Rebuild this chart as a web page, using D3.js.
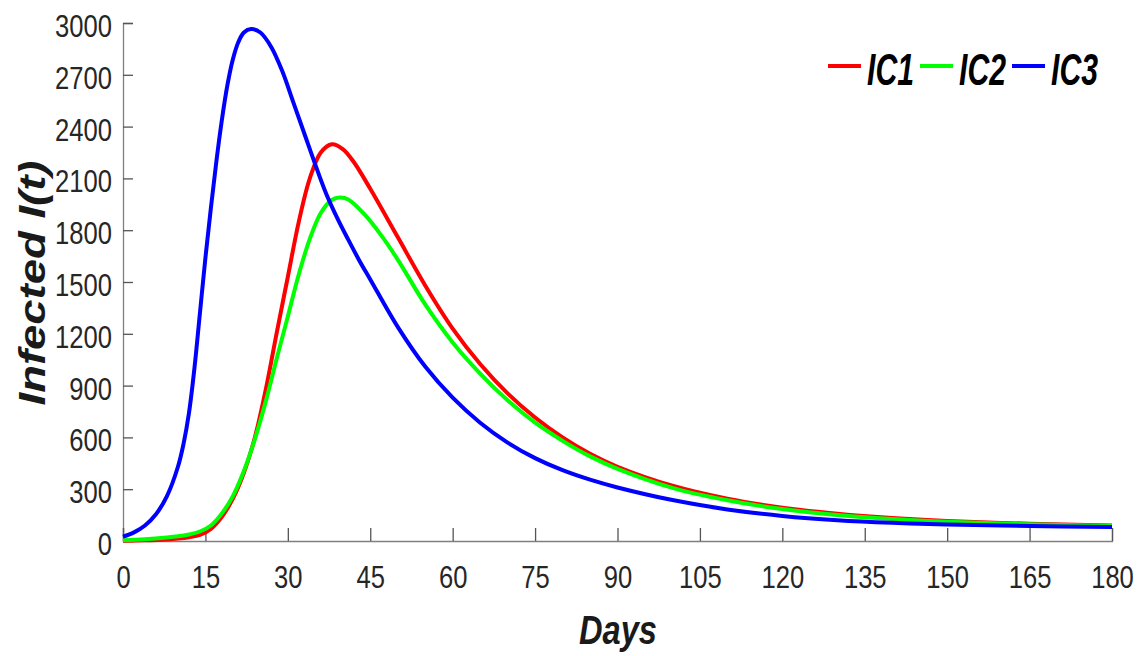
<!DOCTYPE html>
<html>
<head>
<meta charset="utf-8">
<script src="https://cdn.jsdelivr.net/npm/d3@7"></script>
<style>
  html, body { margin: 0; padding: 0; background: #fff; }
  svg { display: block; }
  text { font-family: "Liberation Sans", Arial, sans-serif; }
</style>
</head>
<body>
<svg id="chart" width="1145" height="656"></svg>
<script>
// ---- data ----
const xTicks = [0, 15, 30, 45, 60, 75, 90, 105, 120, 135, 150, 165, 180];
const yTicks = [0, 300, 600, 900, 1200, 1500, 1800, 2100, 2400, 2700, 3000];
const seriesNames = ["IC1", "IC2", "IC3"];
const seriesColors = ["#ff0000", "#00ff00", "#0000ff"];

const ic1Days = [0, 4, 8, 10, 12, 14, 16, 18, 20, 22, 24, 26, 28, 30, 32, 34, 36, 38, 40, 42, 45, 50, 55, 60, 65, 70, 75, 80, 85, 90, 100, 110, 120, 130, 140, 150, 165, 180];
const ic1Vals = [2, 4, 9, 14, 22, 35, 70, 140, 245, 395, 600, 880, 1210, 1530, 1850, 2100, 2250, 2298, 2270, 2195, 2040, 1760, 1480, 1230, 1025, 855, 715, 600, 505, 430, 320, 245, 193, 158, 133, 116, 100, 90];

const ic2Days = [0, 4, 8, 10, 12, 14, 16, 18, 20, 22, 24, 26, 28, 30, 32, 34, 36, 38, 39.5, 41, 44, 47, 50, 55, 60, 65, 70, 75, 80, 85, 90, 100, 110, 120, 130, 140, 150, 165, 180];
const ic2Vals = [5, 10, 20, 27, 38, 55, 90, 160, 260, 405, 590, 810, 1060, 1300, 1545, 1750, 1900, 1975, 1989, 1978, 1890, 1770, 1630, 1370, 1150, 970, 815, 685, 580, 490, 418, 308, 236, 185, 151, 128, 112, 97, 87];

const ic3Days = [0, 2, 4, 6, 8, 10, 11, 12, 13, 14, 15, 16, 17, 18, 19, 20, 21, 22, 23.3, 25, 27, 29, 31, 33, 35, 37, 39, 41, 43, 45, 50, 55, 60, 65, 70, 75, 80, 85, 90, 100, 110, 120, 130, 140, 150, 165, 180];
const ic3Vals = [25, 50, 90, 155, 260, 430, 560, 740, 1000, 1320, 1640, 1930, 2200, 2440, 2640, 2790, 2890, 2945, 2965, 2945, 2860, 2720, 2540, 2360, 2180, 2010, 1870, 1745, 1625, 1515, 1240, 1010, 830, 685, 570, 480, 410, 355, 310, 237, 183, 145, 120, 105, 96, 87, 81];

const seriesDays = [ic1Days, ic2Days, ic3Days];
const seriesVals = [ic1Vals, ic2Vals, ic3Vals];

// ---- layout ----
const svg = d3.select("#chart");
const x = d3.scaleLinear().domain([0, 180]).range([123, 1112]);
const y = d3.scaleLinear().domain([0, 3000]).range([541, 23]);

const axisColor = "#7f7f7f";
const textColor = "#262626";
const tickFont = 32;
const squeeze = 0.8;

// y axis
const gy = svg.append("g").attr("transform", `translate(${x(0)},0)`)
  .call(d3.axisLeft(y).tickValues(yTicks).tickSize(-10).tickPadding(11).tickFormat(d3.format("d")));
gy.select(".domain").attr("stroke", axisColor).attr("stroke-width", 1.3);
gy.selectAll(".tick line").attr("stroke", "#555").attr("stroke-width", 1.3);
gy.selectAll(".tick text")
  .attr("fill", textColor)
  .style("font-size", tickFont + "px")
  .attr("x", -11 / squeeze)
  .attr("dy", "0.42em")
  .attr("transform", `scale(${squeeze},1)`);

// x axis
const gx = svg.append("g").attr("transform", `translate(0,${y(0)})`)
  .call(d3.axisBottom(x).tickValues(xTicks).tickSize(-13).tickPadding(24).tickFormat(d3.format("d")));
gx.select(".domain").attr("stroke", axisColor).attr("stroke-width", 1.3);
gx.selectAll(".tick line").attr("stroke", "#555").attr("stroke-width", 1.3);
gx.selectAll(".tick text")
  .attr("fill", textColor)
  .style("font-size", tickFont + "px")
  .attr("transform", `scale(${squeeze},1)`);

// lines
const line = d3.line().curve(d3.curveCatmullRom.alpha(0.5));
seriesNames.forEach((name, i) => {
  const pts = seriesDays[i].map((d, j) => [x(d), y(seriesVals[i][j])]);
  svg.append("path")
    .attr("d", line(pts))
    .attr("fill", "none")
    .attr("stroke", seriesColors[i])
    .attr("stroke-width", 4)
    .attr("stroke-linejoin", "round");
});

// axis labels
svg.append("text")
  .attr("transform", "translate(45,283) rotate(-90)")
  .attr("text-anchor", "middle")
  .attr("textLength", 245)
  .attr("lengthAdjust", "spacingAndGlyphs")
  .style("font-size", "36px")
  .style("font-weight", "bold")
  .style("font-style", "italic")
  .attr("fill", "#1a1a1a")
  .text("Infected I(t)");

svg.append("text")
  .attr("x", 618)
  .attr("y", 644)
  .attr("text-anchor", "middle")
  .attr("textLength", 78)
  .attr("lengthAdjust", "spacingAndGlyphs")
  .style("font-size", "40px")
  .style("font-weight", "bold")
  .style("font-style", "italic")
  .attr("fill", "#1a1a1a")
  .text("Days");

// legend
const legendX = [828, 920, 1012];
seriesNames.forEach((name, i) => {
  svg.append("line")
    .attr("x1", legendX[i]).attr("x2", legendX[i] + 33)
    .attr("y1", 66).attr("y2", 66)
    .attr("stroke", seriesColors[i]).attr("stroke-width", 4);
  svg.append("text")
    .attr("x", legendX[i] + 39)
    .attr("y", 85)
    .attr("textLength", 47)
    .attr("lengthAdjust", "spacingAndGlyphs")
    .style("font-size", "45px")
    .style("font-weight", "bold")
    .style("font-style", "italic")
    .attr("fill", "#000")
    .text(name);
});
</script>
</body>
</html>
